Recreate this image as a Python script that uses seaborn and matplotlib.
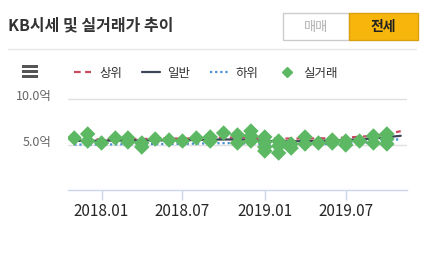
import matplotlib
matplotlib.use("Agg")
import matplotlib.pyplot as plt
from matplotlib.patches import Rectangle
from matplotlib.lines import Line2D
from matplotlib.transforms import ScaledTranslation
import seaborn as sns
import pandas as pd

# ---------------- data ----------------
line_months = pd.date_range("2017-11-01", "2019-11-01", freq="MS")
upper = [5.60, 5.60, 5.62, 5.65, 5.65, 5.65, 5.68, 5.70, 5.70, 5.72, 5.75, 5.80, 5.82,
         5.80, 5.75, 5.70, 5.70, 5.70, 5.72, 5.75, 5.80, 5.90, 6.00, 6.20, 6.50]
normal = [5.45, 5.45, 5.47, 5.48, 5.48, 5.50, 5.50, 5.52, 5.52, 5.55, 5.58, 5.60, 5.60,
          5.55, 5.45, 5.40, 5.40, 5.42, 5.45, 5.50, 5.55, 5.62, 5.70, 5.85, 6.00]
lower = [5.05, 5.05, 5.05, 5.07, 5.08, 5.10, 5.10, 5.12, 5.12, 5.15, 5.18, 5.20, 5.20,
         5.15, 5.10, 5.05, 5.05, 5.07, 5.10, 5.12, 5.15, 5.22, 5.30, 5.45, 5.65]

deal_months = ["2017-11", "2017-12", "2017-12", "2018-01", "2018-02", "2018-03", "2018-03",
               "2018-04", "2018-04", "2018-05", "2018-06", "2018-07", "2018-08", "2018-09",
               "2018-09", "2018-10", "2018-11", "2018-11", "2018-12", "2018-12", "2018-12",
               "2019-01", "2019-01", "2019-01", "2019-01", "2019-02", "2019-02", "2019-02",
               "2019-03", "2019-03", "2019-04", "2019-04", "2019-05", "2019-06", "2019-06",
               "2019-07", "2019-07", "2019-08", "2019-09", "2019-09", "2019-10", "2019-10",
               "2019-10"]
deal_values = [5.76, 6.20, 5.43, 5.22, 5.76, 5.76, 5.33,
               5.22, 4.78, 5.65, 5.54, 5.43, 5.76, 5.87,
               5.43, 6.30, 6.09, 5.22, 6.52, 5.98, 5.43,
               5.87, 5.33, 4.78, 4.35, 5.43, 4.89, 4.13,
               5.11, 4.67, 5.87, 5.11, 5.22, 5.54, 5.22,
               5.43, 5.00, 5.43, 5.98, 5.22, 6.20, 5.65,
               5.11]

y_ticks = [5, 10]
y_tick_labels = ["5.0억", "10.0억"]
x_ticks = ["2018-01-01", "2018-07-01", "2019-01-01", "2019-07-01"]
x_tick_labels = ["2018.01", "2018.07", "2019.01", "2019.07"]
legend_labels = ["상위", "일반", "하위", "실거래"]

# ---------------- style ----------------
sns.set_theme(style="white")
plt.rcParams["font.family"] = ["Noto Sans CJK KR", "DejaVu Sans"]

W, H = 431, 258
fig = plt.figure(figsize=(W / 100, H / 100), dpi=100)
fig.patch.set_facecolor("white")


def fx(x):
    return x / W


def fy(y):
    return 1 - y / H


ax = fig.add_axes([fx(68), fy(191), (407 - 68) / W, 101.2 / H])
ax.set_facecolor("white")

lines_df = pd.DataFrame({"date": line_months, "상위": upper, "일반": normal, "하위": lower})
deals_df = pd.DataFrame({"date": pd.to_datetime(deal_months), "value": deal_values})

c_up, c_mid, c_low, c_deal = "#c8485e", "#3c4658", "#4a90d8", "#5cb862"

sns.lineplot(data=lines_df, x="date", y="상위", ax=ax, color=c_up, lw=1.6,
             linestyle=(0, (3, 2)), zorder=2)
sns.lineplot(data=lines_df, x="date", y="일반", ax=ax, color=c_mid, lw=1.6, zorder=2)
sns.lineplot(data=lines_df, x="date", y="하위", ax=ax, color=c_low, lw=1.6,
             linestyle=(0, (1, 1.3)), zorder=2)
sns.scatterplot(data=deals_df, x="date", y="value", ax=ax, color=c_deal, marker="D",
                s=62, edgecolor="none", zorder=3)

ax.set_ylim(0, 11)
ax.set_xlim(pd.Timestamp("2017-10-18"), pd.Timestamp("2019-11-15"))
ax.set_xlabel("")
ax.set_ylabel("")

ax.set_yticks(y_ticks)
ax.set_yticklabels(y_tick_labels, fontsize=9, color="#666666")
ax.tick_params(axis="y", length=0, pad=12, left=False)
for lab in ax.get_yticklabels():
    lab.set_transform(lab.get_transform() + ScaledTranslation(0, 4 / 100, fig.dpi_scale_trans))
ax.grid(axis="y", color="#e0e0e0", lw=1)
ax.grid(axis="x", visible=False)

ax.set_xticks(pd.to_datetime(x_ticks))
ax.set_xticklabels(x_tick_labels, fontsize=8, color="#6a6a6a")
ax.tick_params(axis="x", bottom=True, length=7, width=1, color="#ccd6eb", pad=2,
               direction="out")

for s in ["top", "right", "left"]:
    ax.spines[s].set_visible(False)
ax.spines["bottom"].set_color("#ccd6eb")
ax.spines["bottom"].set_linewidth(1)
ax.spines["bottom"].set_position(("data", 0.1))

# ---------------- header ----------------
fig.text(fx(8), fy(25), "KB시세 및 실거래가 추이", fontsize=11.5, color="#333333",
         va="center", ha="left", fontweight="bold")
fig.add_artist(Line2D([fx(8), fx(416)], [fy(49), fy(49)], color="#e6e6e6", lw=1))

fig.add_artist(Rectangle((fx(283), fy(40)), (349 - 283) / W, 27 / H, transform=fig.transFigure,
                         facecolor="white", edgecolor="#cccccc", lw=1))
fig.add_artist(Rectangle((fx(349), fy(40)), (418 - 349) / W, 27 / H, transform=fig.transFigure,
                         facecolor="#f8b60c", edgecolor="#d9a010", lw=1))
fig.text(fx(316), fy(27), "매매", fontsize=9.5, color="#b0b0b0", ha="center", va="center")
fig.text(fx(383), fy(27), "전세", fontsize=10, color="#222222", ha="center", va="center",
         fontweight="bold")

# hamburger icon
for yy in [66, 71, 76]:
    fig.add_artist(Rectangle((fx(22), fy(yy + 1.5)), 16 / W, 3 / H, transform=fig.transFigure,
                             facecolor="#555555", edgecolor="none"))

# legend
handles = [
    Line2D([], [], color=c_up, lw=1.6, linestyle=(0, (3, 2))),
    Line2D([], [], color=c_mid, lw=1.6),
    Line2D([], [], color=c_low, lw=1.6, linestyle=(0, (1, 1.3))),
    Line2D([], [], color=c_deal, marker="D", markersize=5.5, lw=0),
]
fig.legend(handles, legend_labels, loc="center left", bbox_to_anchor=(fx(74), fy(73)),
           ncol=4, frameon=False, fontsize=9, handlelength=1.4, handletextpad=0.6,
           columnspacing=1.6, labelcolor="#333333", borderaxespad=0, borderpad=0)

fig.savefig("out.png", dpi=100, facecolor="white")
